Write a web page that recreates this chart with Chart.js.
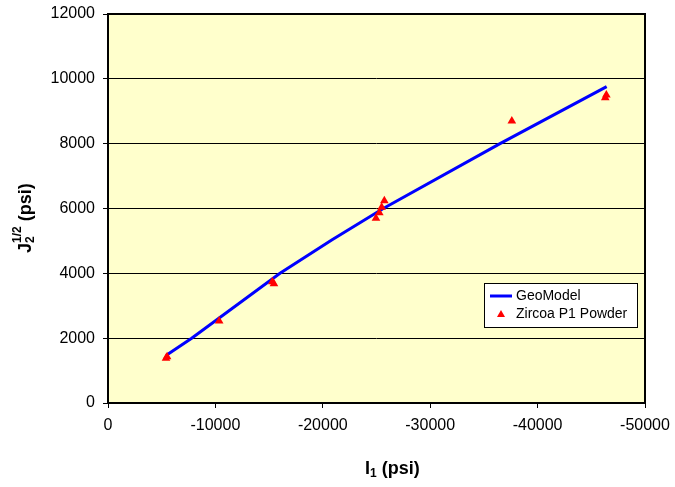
<!DOCTYPE html>
<html>
<head>
<meta charset="utf-8">
<script src="https://cdn.jsdelivr.net/npm/chart.js@4/dist/chart.umd.min.js"></script>
<style>
  html, body { margin: 0; padding: 0; background: #fff; }
  #wrap { width: 675px; height: 487px; }
</style>
</head>
<body>
<div id="wrap"><canvas id="chart" width="675" height="487"></canvas></div>
<script>
// GeoModel yield surface
const geoI1 = [-5465, -7790, -16015, -20830, -25630, -36500, -46430];
const geoJ2 = [1480, 2000, 4000, 5030, 6000, 8000, 9760];

// Zircoa P1 Powder test points
const testI1 = [-5400, -5500, -10350, -15300, -15450, -24950, -25260, -25480, -25730, -37600, -46300, -46400];
const testJ2 = [1380, 1430, 2530, 3740, 3680, 5700, 5870, 6040, 6240, 8700, 9420, 9500];

const xTicks = [0, -10000, -20000, -30000, -40000, -50000];
const yTicks = [0, 2000, 4000, 6000, 8000, 10000, 12000];

const FONT = '"Liberation Sans", Arial, sans-serif';

const toPoints = (xs, ys) => xs.map((x, i) => ({ x: x, y: ys[i] }));

// plot background, frame, axis titles and the boxed legend
const decor = {
    id: 'decor',
    beforeDraw(chart) {
        const { ctx, chartArea: a } = chart;
        ctx.save();
        ctx.fillStyle = '#FFFFCC';
        ctx.fillRect(a.left, a.top, a.right - a.left, a.bottom - a.top);
        ctx.restore();
    },
    beforeDatasetsDraw(chart) {
        const { ctx, chartArea: a } = chart;
        ctx.save();
        ctx.strokeStyle = '#000';
        ctx.lineWidth = 2;
        ctx.strokeRect(a.left, a.top, a.right - a.left, a.bottom - a.top);
        ctx.restore();
    },
    afterDraw(chart) {
        const ctx = chart.ctx;
        ctx.save();
        ctx.fillStyle = '#000';
        ctx.textBaseline = 'alphabetic';

        // x title: I1 (psi)
        let x = 365, y = 474;
        ctx.font = 'bold 18px ' + FONT;
        ctx.fillText('I', x, y);
        x += ctx.measureText('I').width;
        ctx.font = 'bold 12px ' + FONT;
        ctx.fillText('1', x, y + 3);
        x += ctx.measureText('1').width;
        ctx.font = 'bold 18px ' + FONT;
        ctx.fillText(' (psi)', x, y);

        // y title: J2^(1/2) (psi), rotated
        ctx.translate(31, 253);
        ctx.rotate(-Math.PI / 2);
        x = 0; y = 0;
        ctx.font = 'bold 18px ' + FONT;
        ctx.fillText('J', x, y);
        x += ctx.measureText('J').width;
        ctx.font = 'bold 12px ' + FONT;
        ctx.fillText('2', x, y + 3);
        ctx.fillText('1/2', x, y - 10);
        x += ctx.measureText('1/2').width;
        ctx.font = 'bold 18px ' + FONT;
        ctx.fillText(' (psi)', x, y);
        ctx.restore();

        // legend box
        const lx = 484, ly = 283, lw = 153, lh = 44;
        ctx.save();
        ctx.fillStyle = '#fff';
        ctx.fillRect(lx, ly, lw, lh);
        ctx.strokeStyle = '#000';
        ctx.lineWidth = 1;
        ctx.strokeRect(lx + 0.5, ly + 0.5, lw, lh);

        const line = chart.data.datasets[0];
        const pts = chart.data.datasets[1];
        ctx.strokeStyle = line.borderColor;
        ctx.lineWidth = 3;
        ctx.beginPath();
        ctx.moveTo(lx + 6, ly + 13);
        ctx.lineTo(lx + 28, ly + 13);
        ctx.stroke();

        ctx.fillStyle = pts.backgroundColor;
        const tx = lx + 17, ty = ly + 31;
        ctx.beginPath();
        ctx.moveTo(tx, ty - 4);
        ctx.lineTo(tx + 4, ty + 3);
        ctx.lineTo(tx - 4, ty + 3);
        ctx.closePath();
        ctx.fill();

        ctx.fillStyle = '#000';
        ctx.font = '14px ' + FONT;
        ctx.textBaseline = 'middle';
        ctx.fillText(line.label, lx + 32, ly + 13);
        ctx.fillText(pts.label, lx + 32, ly + 31);
        ctx.restore();
    }
};

new Chart(document.getElementById('chart'), {
    type: 'scatter',
    data: {
        datasets: [{
            label: 'GeoModel',
            type: 'line',
            data: toPoints(geoI1, geoJ2),
            borderColor: '#0000FF',
            borderWidth: 3,
            pointRadius: 0,
            tension: 0,
            fill: false,
            order: 2
        }, {
            label: 'Zircoa P1 Powder',
            data: toPoints(testI1, testJ2),
            pointStyle: 'triangle',
            pointRadius: 5,
            backgroundColor: '#FF0000',
            borderColor: '#FF0000',
            borderWidth: 0,
            order: 1
        }]
    },
    options: {
        responsive: false,
        animation: false,
        layout: { padding: { top: 14, right: 30, left: 0, bottom: 0 } },
        plugins: {
            legend: { display: false },
            tooltip: { enabled: false }
        },
        scales: {
            x: {
                type: 'linear',
                min: -50000,
                max: 0,
                reverse: true,
                afterBuildTicks: s => { s.ticks = xTicks.map(v => ({ value: v })); },
                afterFit: s => {
                    s.height = 84;
                    s.paddingLeft = 0;
                    s.paddingRight = 0;
                },
                grid: { drawOnChartArea: false, color: '#000', tickLength: 5 },
                border: { display: false },
                ticks: {
                    color: '#000',
                    padding: 8,
                    maxRotation: 0,
                    font: { family: FONT, size: 16 },
                    callback: v => String(v)
                }
            },
            y: {
                min: 0,
                max: 12000,
                afterBuildTicks: s => { s.ticks = yTicks.map(v => ({ value: v })); },
                afterFit: s => {
                    s.width = 108;
                    s.paddingTop = 0;
                    s.paddingBottom = 0;
                },
                grid: { color: '#000', lineWidth: 1, tickLength: 5 },
                border: { display: false },
                ticks: {
                    color: '#000',
                    padding: 8,
                    font: { family: FONT, size: 16 },
                    callback: v => String(v)
                }
            }
        }
    },
    plugins: [decor]
});
</script>
</body>
</html>
